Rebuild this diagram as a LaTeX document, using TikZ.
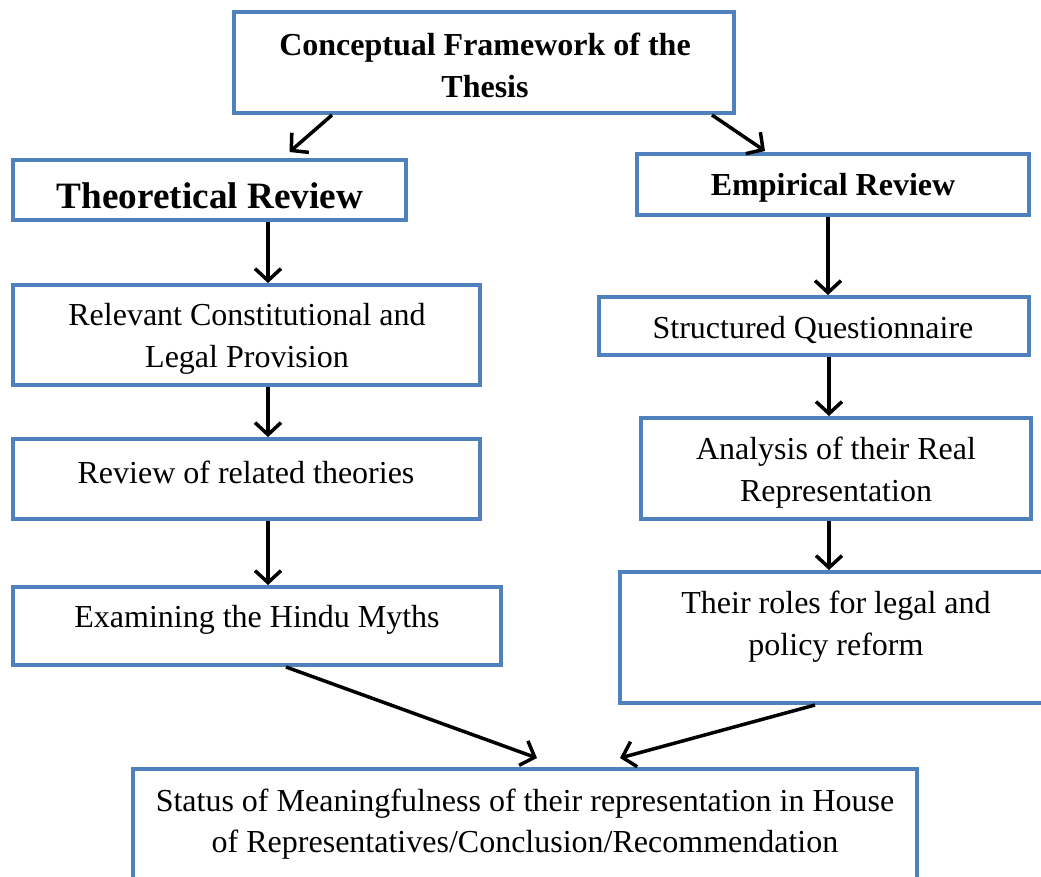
\documentclass[tikz,border=0pt]{standalone}
\usepackage{fontspec}
\setmainfont{Liberation Serif}
\usetikzlibrary{arrows.meta}
\definecolor{boxblue}{HTML}{4F81BD}
\begin{document}
\begin{tikzpicture}[x=1pt,y=-1pt,
  box/.style={draw=boxblue, line width=4pt, fill=white, rectangle, inner sep=0pt},
  txt/.style={font=\fontsize{32}{42}\selectfont, align=center, inner sep=0pt},
  arr/.style={line width=3.5pt, -{Straight Barb[length=12pt,width=26pt]}}]
\useasboundingbox (0,0) rectangle (1041,876);
% boxes
\node[box, minimum width=500pt, minimum height=101pt] (concept) at (484,62.5) {};
\node[box, minimum width=393pt, minimum height=60pt] (theo) at (209.5,190) {};
\node[box, minimum width=392pt, minimum height=61pt] (emp) at (833,184.5) {};
\node[box, minimum width=467pt, minimum height=100pt] (relev) at (246.5,335) {};
\node[box, minimum width=430pt, minimum height=58pt] (struct) at (814,326) {};
\node[box, minimum width=467pt, minimum height=80pt] (review) at (246.5,479) {};
\node[box, minimum width=390pt, minimum height=101pt] (analysis) at (836,468.5) {};
\node[box, minimum width=488pt, minimum height=78pt] (exam) at (257,626) {};
\node[box, minimum width=426pt, minimum height=131pt] (roles) at (833,637.5) {};
\node[box, minimum width=784pt, minimum height=116pt] (status) at (525,827) {};
% texts
\node[txt, font=\fontsize{32}{42}\selectfont\bfseries] (conceptT) at (485,65) {Conceptual Framework of the\\Thesis};
\node[txt, font=\fontsize{37.2}{44}\selectfont\bfseries] (theoT) at (210,196) {Theoretical Review};
\node[txt, font=\fontsize{32}{42}\selectfont\bfseries] (empT) at (833,188) {Empirical Review};
\node[txt] (relevT) at (247,339) {Relevant Constitutional and\\Legal Provision};
\node[txt] (structT) at (813,330) {Structured Questionnaire};
\node[txt] (reviewT) at (246,472) {Review of related theories};
\node[txt] (analysisT) at (836,473) {Analysis of their Real\\Representation};
\node[txt] (examT) at (257,620) {Examining the Hindu Myths};
\node[txt] (rolesT) at (836,627) {Their roles for legal and\\policy reform};
\node[txt, font=\fontsize{32}{41}\selectfont] (statusT) at (525,824) {Status of Meaningfulness of their representation in House\\of Representatives/Conclusion/Recommendation};
% arrows
\draw[arr] ([xshift=-152pt]concept.south) -- ([xshift=80pt,yshift=6pt]theo.north);
\draw[arr] ([xshift=228pt]concept.south) -- ([xshift=-68pt,yshift=1pt]emp.north);
\draw[arr] ([xshift=58.5pt]theo.south) -- ([xshift=21.5pt]relev.north);
\draw[arr] ([xshift=21.5pt]relev.south) -- ([xshift=21.5pt]review.north);
\draw[arr] ([xshift=21.5pt]review.south) -- ([xshift=11pt]exam.north);
\draw[arr] ([xshift=-5pt]emp.south) -- ([xshift=14pt]struct.north);
\draw[arr] ([xshift=15pt]struct.south) -- ([xshift=-7pt]analysis.north);
\draw[arr] ([xshift=-7pt]analysis.south) -- ([xshift=-4pt]roles.north);
\draw[arr] ([xshift=29pt]exam.south) -- ([xshift=12pt,yshift=9pt]status.north);
\draw[arr] ([xshift=-18pt]roles.south) -- ([xshift=95pt,yshift=9pt]status.north);
\end{tikzpicture}
\end{document}
